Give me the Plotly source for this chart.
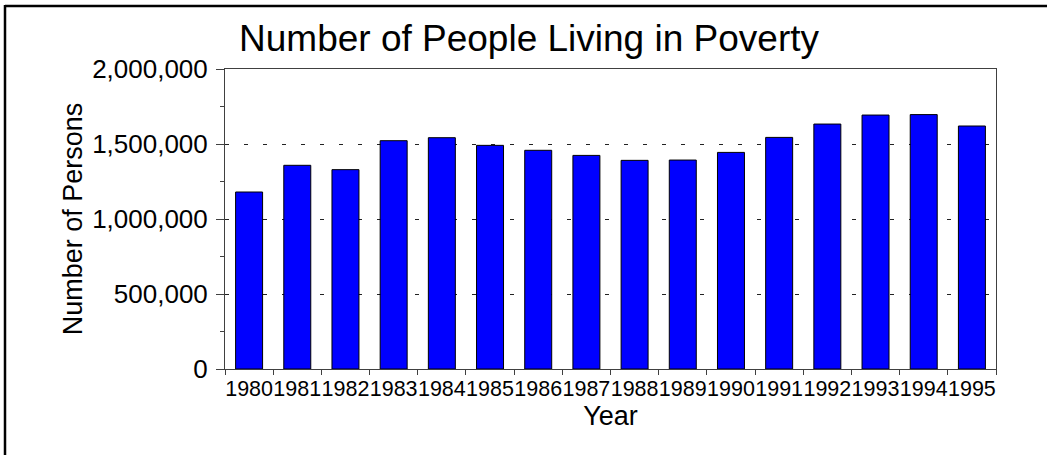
import plotly.graph_objects as go

# data
YEARS = ["1980", "1981", "1982", "1983", "1984", "1985", "1986", "1987",
         "1988", "1989", "1990", "1991", "1992", "1993", "1994", "1995"]
PERSONS = [1180000, 1358000, 1329000, 1522000, 1542000, 1491000, 1458000,
           1424000, 1391000, 1393000, 1444000, 1544000, 1633000, 1693000,
           1696000, 1620000]

TITLE = "Number of People Living in Poverty"
X_TITLE = "Year"
Y_TITLE = "Number of Persons"

FONT = "Liberation Sans, Arial, sans-serif"
INK = "#000000"
AXIS = "#404040"

W, H = 1047, 455
ML, MR, MT, MB = 225, 51, 69, 86
PW, PH = W - ML - MR, H - MT - MB


def px_x(p):
    return (p - ML) / PW


def px_y(p):
    return (H - MB - p) / PH


fig = go.Figure(go.Bar(
    x=YEARS, y=PERSONS,
    marker=dict(color="#0000ff", line=dict(color="#000000", width=1)),
))

fig.update_layout(
    template="none",
    width=W, height=H,
    margin=dict(l=ML, r=MR, t=MT, b=MB, pad=0),
    paper_bgcolor="white", plot_bgcolor="white",
    font=dict(family=FONT, color=INK),
    showlegend=False,
    bargap=0.44,
    title=dict(text=TITLE, font=dict(size=37, color=INK),
               xref="container", x=529 / W, xanchor="center",
               yref="container", y=1 - 25 / H, yanchor="top"),
)

fig.update_xaxes(
    type="category", automargin=False,
    showline=True, mirror=True, linecolor=AXIS, linewidth=1,
    showgrid=False, zeroline=False,
    ticks="outside", tickson="boundaries", ticklen=5, tickcolor=AXIS,
    tickangle=0, tickfont=dict(size=21.5, color=INK),
    title=dict(text=X_TITLE, font=dict(size=27, color=INK), standoff=5),
)

fig.update_yaxes(
    range=[0, 2000000], automargin=False,
    showline=True, mirror=True, linecolor=AXIS, linewidth=1,
    dtick=500000, tickformat=",d",
    ticks="outside", ticklen=8, tickcolor=AXIS,
    ticklabelstandoff=3,
    tickfont=dict(size=26, color=INK),
    minor=dict(dtick=250000, ticks="outside", ticklen=4, tickcolor=AXIS,
               showgrid=False),
    showgrid=True, gridcolor="#222222", gridwidth=1, griddash="4px,15px",
    zeroline=False,
    title=dict(text=Y_TITLE, font=dict(size=27, color=INK), standoff=1),
)

# outer frame of the original figure (only left and top edges are in view)
fig.add_shape(type="line", xref="paper", yref="paper",
              x0=px_x(5), x1=px_x(5), y0=px_y(5), y1=px_y(H + 10),
              line=dict(color="black", width=2.5))
fig.add_shape(type="line", xref="paper", yref="paper",
              x0=px_x(5), x1=px_x(W + 10), y0=px_y(6), y1=px_y(6),
              line=dict(color="black", width=2.5))

# page body has an 8px default margin; drop it so the figure sits at 0,0
fig.write_html("out.html", config={"displayModeBar": False},
               post_script="document.body.style.margin = '0';")
